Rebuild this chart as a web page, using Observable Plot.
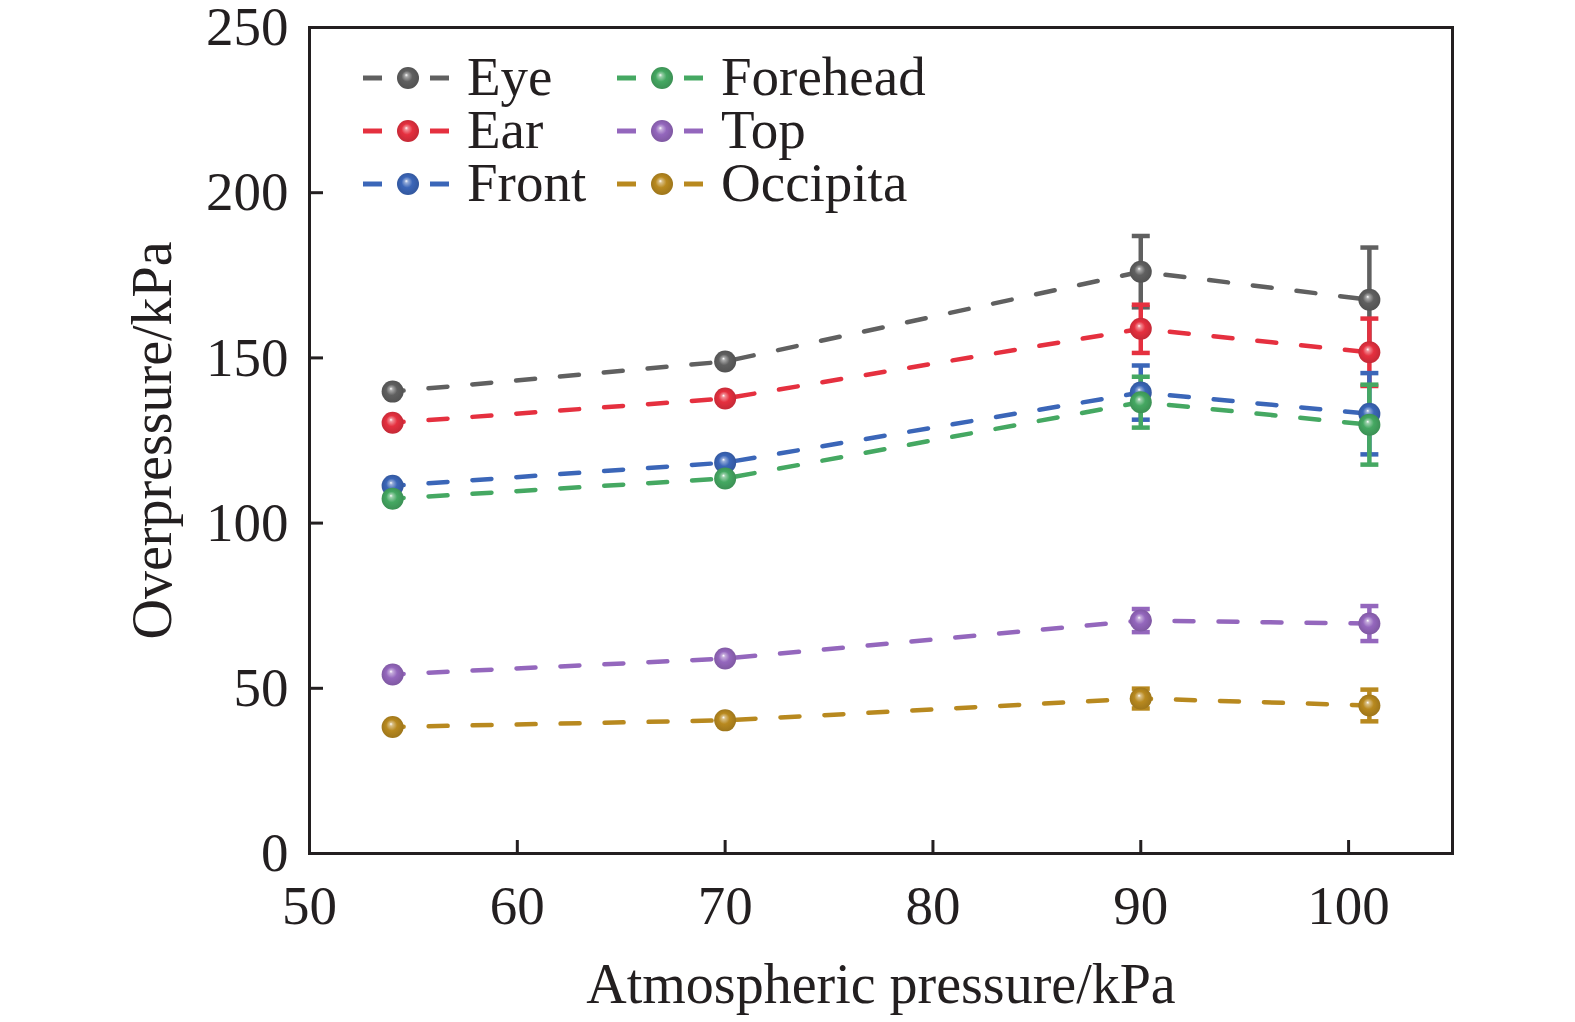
<!DOCTYPE html>
<html>
<head>
<meta charset="utf-8">
<script src="https://cdn.jsdelivr.net/npm/d3@7"></script>
<script src="https://cdn.jsdelivr.net/npm/@observablehq/plot@0.6"></script>
<style>
  html, body { margin: 0; padding: 0; background: #fff; }
  #wrap { position: relative; width: 1575px; height: 1022px; }
  #legend { position: absolute; left: 0; top: 0; }
</style>
</head>
<body>
<div id="wrap"></div>
<script>
// ---------- data ----------
const atmPressure = [54, 70, 90, 101];
const seriesNames = ["Eye", "Ear", "Front", "Forehead", "Top", "Occipita"];
const seriesColors = ["#606060", "#e5303f", "#3b66b8", "#45a862", "#9467bd", "#b8891f"];

const eyeValues      = [139.8, 148.9, 176.1, 167.6];
const earValues      = [130.4, 137.7, 158.8, 151.7];
const frontValues    = [111.3, 118.3, 139.5, 133.1];
const foreheadValues = [107.4, 113.5, 136.6, 129.8];
const topValues      = [54.2, 59.0, 70.5, 69.6];
const occipitaValues = [38.3, 40.3, 46.9, 44.8];

const eyeErrors      = [0, 0, 10.8, 15.8];
const earErrors      = [0, 0, 7.3, 10.2];
const frontErrors    = [0, 0, 8.2, 12.3];
const foreheadErrors = [0, 0, 7.7, 12.1];
const topErrors      = [0, 0, 3.5, 5.3];
const occipitaErrors = [0, 0, 3.0, 4.8];

const xTicks = [50, 60, 70, 80, 90, 100];
const yTicks = [0, 50, 100, 150, 200, 250];
const xTitle = "Atmospheric pressure/kPa";
const yTitle = "Overpressure/kPa";

const allValues = [eyeValues, earValues, frontValues, foreheadValues, topValues, occipitaValues];
const allErrors = [eyeErrors, earErrors, frontErrors, foreheadErrors, topErrors, occipitaErrors];

const rows = [];
seriesNames.forEach((s, i) => {
  atmPressure.forEach((p, j) => {
    rows.push({series: s, idx: i, x: p, y: allValues[i][j], err: allErrors[i][j]});
  });
});

// ---------- marks ----------
const ink = "#231f20";
const serif = "'Liberation Serif', 'Times New Roman', serif";
const capSymbol = {
  draw(ctx, size) {
    const r = Math.sqrt(size / Math.PI);
    ctx.moveTo(-r, 0);
    ctx.lineTo(r, 0);
  }
};

const lineMarks = [], errMarks = [], dotMarks = [];
seriesNames.forEach((s, i) => {
  const d = rows.filter(r => r.series === s);
  const e = d.filter(r => r.err > 0);
  const c = seriesColors[i];
  lineMarks.push(Plot.line(d, {x: "x", y: "y", stroke: c, strokeWidth: 4.5,
    strokeDasharray: "19,25", strokeDashoffset: 8}));
  errMarks.push(Plot.ruleX(e, {x: "x", y1: r => r.y - r.err, y2: r => r.y + r.err, stroke: c, strokeWidth: 4.5}));
  errMarks.push(Plot.dot(e, {x: "x", y: r => r.y + r.err, symbol: capSymbol, r: 9, stroke: c, strokeWidth: 4.5, fill: "none"}));
  errMarks.push(Plot.dot(e, {x: "x", y: r => r.y - r.err, symbol: capSymbol, r: 9, stroke: c, strokeWidth: 4.5, fill: "none"}));
  dotMarks.push(Plot.dot(d, {x: "x", y: "y", r: 11, fill: `url(#ball${i})`, stroke: "none"}));
});

const chart = Plot.plot({
  width: 1575,
  height: 1022,
  marginLeft: 309,
  marginRight: 123,
  marginTop: 27,
  marginBottom: 169,
  style: {fontFamily: serif, fontSize: "55px", color: ink, background: "#fff", overflow: "visible"},
  x: {domain: [50, 105]},
  y: {domain: [0, 250]},
  marks: [
    ...lineMarks,
    ...errMarks,
    ...dotMarks,
    Plot.frame({stroke: ink, strokeWidth: 3}),
    Plot.ruleX(xTicks.filter(t => t > 50), {x: d => d, insetTop: 1022 - 27 - 169 - 13, stroke: ink, strokeWidth: 3}),
    Plot.ruleY(yTicks.filter(t => t > 0 && t < 250), {y: d => d, insetRight: 1575 - 309 - 123 - 14, stroke: ink, strokeWidth: 3}),
    Plot.axisX({ticks: xTicks, tickSize: 0, tickPadding: 31, label: null, fontSize: 55, fill: ink}),
    Plot.axisY({ticks: yTicks, tickSize: 0, tickPadding: 21, label: null, fontSize: 55, fill: ink}),
    Plot.text([xTitle], {text: d => d, frameAnchor: "bottom", dy: 110, lineAnchor: "top", textAnchor: "middle", fontSize: 56, fill: ink}),
    Plot.text([yTitle], {text: d => d, frameAnchor: "left", dx: -178, rotate: -90, lineAnchor: "top", textAnchor: "middle", fontSize: 56, fill: ink})
  ]
});

// gradients for the spheres
const svg = d3.select(chart);
const defs = svg.insert("defs", ":first-child");
seriesColors.forEach((c, i) => {
  const base = d3.color(c);
  const g = defs.append("radialGradient").attr("id", `ball${i}`)
    .attr("cx", "50%").attr("cy", "50%").attr("r", "55%")
    .attr("fx", "42%").attr("fy", "36%");
  g.append("stop").attr("offset", "0%").attr("stop-color", "#ffffff");
  g.append("stop").attr("offset", "14%").attr("stop-color", d3.interpolateRgb("#ffffff", c)(0.55));
  g.append("stop").attr("offset", "45%").attr("stop-color", c);
  g.append("stop").attr("offset", "100%").attr("stop-color", base.darker(0.5).formatHex());
});

const wrap = document.getElementById("wrap");
wrap.appendChild(chart);

// ---------- legend ----------
const legendRows = [78, 131, 184];
const legendCols = [363, 617];
const leg = d3.select(wrap).append("svg").attr("id", "legend")
  .attr("width", 1575).attr("height", 1022)
  .style("pointer-events", "none");
seriesNames.forEach((s, i) => {
  const col = Math.floor(i / 3), row = i % 3;
  const x0 = legendCols[col], yc = legendRows[row];
  const c = seriesColors[i];
  const g = leg.append("g");
  g.append("line").attr("x1", x0).attr("x2", x0 + 19).attr("y1", yc).attr("y2", yc)
    .attr("stroke", c).attr("stroke-width", 5);
  g.append("line").attr("x1", x0 + 67).attr("x2", x0 + 86).attr("y1", yc).attr("y2", yc)
    .attr("stroke", c).attr("stroke-width", 5);
  g.append("circle").attr("cx", x0 + 45).attr("cy", yc).attr("r", 11).attr("fill", `url(#ball${i})`);
  g.append("text").attr("x", x0 + 104).attr("y", yc + 17)
    .attr("font-family", serif)
    .attr("font-size", 55).attr("fill", ink).text(s);
});
</script>
</body>
</html>
